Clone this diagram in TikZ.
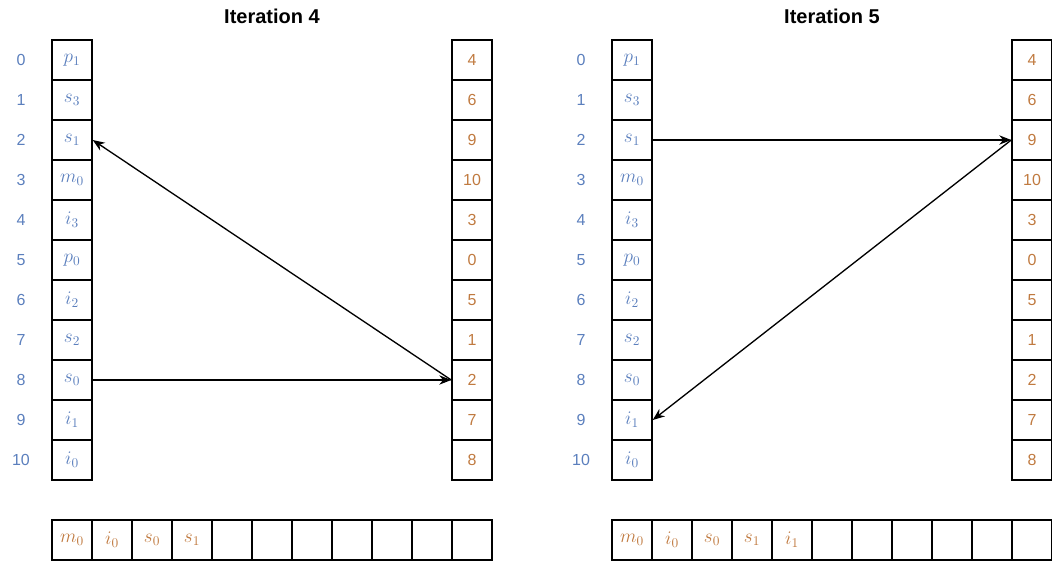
\documentclass[tikz,border=0pt]{standalone}
\usepackage{fontspec}
\setsansfont{Liberation Sans}
\usetikzlibrary{arrows.meta}
\definecolor{idxblue}{HTML}{5B7FBD}
\definecolor{valorange}{HTML}{C07A40}
\begin{document}
\begin{tikzpicture}[x=0.75pt,y=-0.75pt,
  cell/.style={draw=black,line width=1.1pt,minimum width=30pt,minimum height=30pt,inner sep=0pt,font=\fontsize{14.5}{16}\selectfont},
  bluecell/.style={cell,text=idxblue},
  orcell/.style={cell,text=valorange},
  numcell/.style={cell,text=valorange,font=\sffamily\fontsize{12}{14}\selectfont},
  idx/.style={text=idxblue,font=\sffamily\fontsize{12}{14}\selectfont},
  ttl/.style={font=\sffamily\bfseries\fontsize{15}{18}\selectfont},
  arr/.style={-{Stealth[length=9pt,width=7pt]},line width=1pt}]
\useasboundingbox (0,0) rectangle (1052,562);
% Panel titles
\node[ttl] (t4) at (272,16) {Iteration 4};
\node[ttl] (t5) at (832,16) {Iteration 5};
% Panels
\foreach \p/\dx in {A/0,B/560}{
  \foreach \lab [count=\i from 0] in {p_1,s_3,s_1,m_0,i_3,p_0,i_2,s_2,s_0,i_1,i_0}{
    \node[bluecell] (\p l\i) at (72+\dx,60+40*\i) {$\lab$};
    \node[idx] (\p n\i) at (21+\dx,60+40*\i) {\i};
  }
  \foreach \v [count=\i from 0] in {4,6,9,10,3,0,5,1,2,7,8}{
    \node[numcell] (\p r\i) at (472+\dx,60+40*\i) {\v};
  }
}
% Bottom rows
\foreach \lab [count=\i from 0] in {m_0,i_0,s_0,s_1,,,,,,,}{
  \node[orcell] (Ab\i) at (72+40*\i,540) {$\lab$};
}
\foreach \lab [count=\i from 0] in {m_0,i_0,s_0,s_1,i_1,,,,,,}{
  \node[orcell] (Bb\i) at (632+40*\i,540) {$\lab$};
}
% Arrows iteration 4
\draw[arr] (Al8.east) -- (Ar8.west);
\draw[arr] (Ar8.west) -- (Al2.east);
% Arrows iteration 5
\draw[arr] (Bl2.east) -- (Br2.west);
\draw[arr] (Br2.west) -- (Bl9.east);
\end{tikzpicture}
\end{document}
